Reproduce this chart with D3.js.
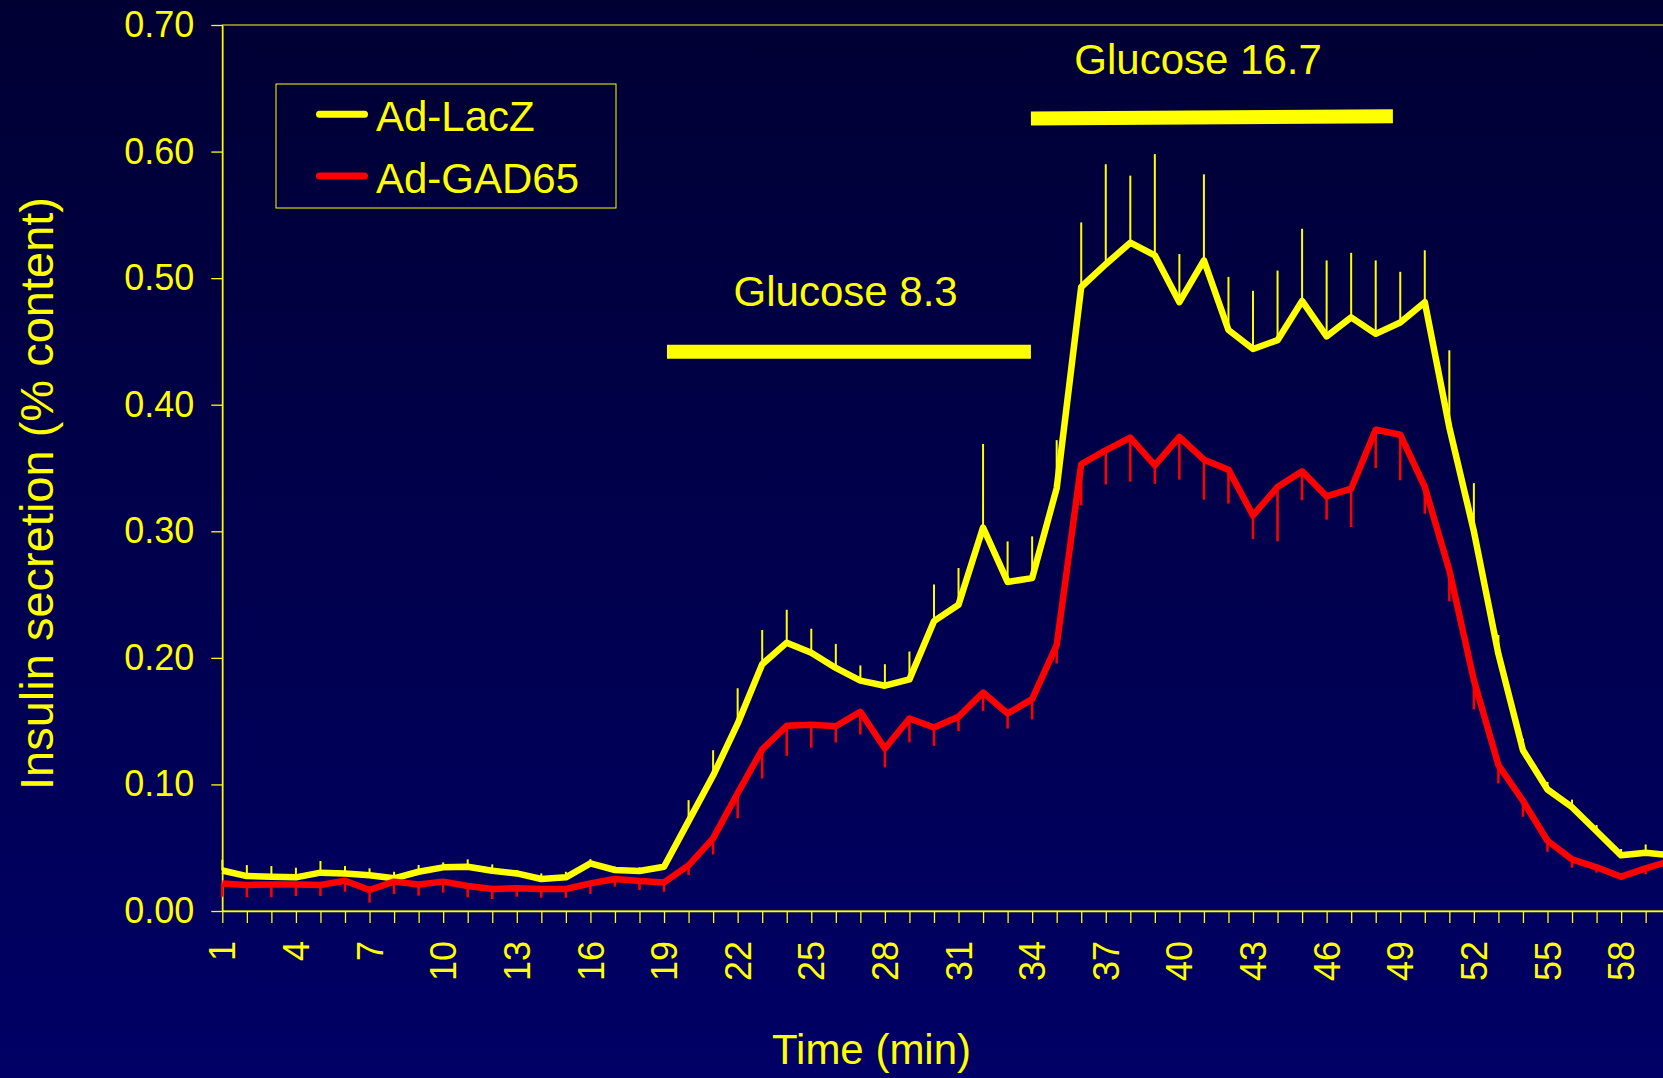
<!DOCTYPE html>
<html>
<head>
<meta charset="utf-8">
<script src="https://cdn.jsdelivr.net/npm/d3@7"></script>
<style>
  html, body { margin: 0; padding: 0; background: #000033; }
  svg { display: block; }
</style>
</head>
<body>
<svg width="1663" height="1078"></svg>
<script>
// Time points (min)
const times = [1,2,3,4,5,6,7,8,9,10,11,12,13,14,15,16,17,18,19,20,
  21,22,23,24,25,26,27,28,29,30,31,32,33,34,35,36,37,38,39,40,
  41,42,43,44,45,46,47,48,49,50,51,52,53,54,55,56,57,58,59,60];

// Ad-LacZ mean and SEM
const lacz = [0.032,0.0276,0.0271,0.0266,0.0303,0.0297,0.0282,0.0258,0.031,0.0345,
  0.035,0.0318,0.0297,0.0253,0.0266,0.0376,0.0324,0.0316,0.035,0.071,
  0.107,0.148,0.195,0.212,0.204,0.192,0.182,0.178,0.183,0.229,
  0.242,0.303,0.26,0.263,0.334,0.493,0.511,0.528,0.518,0.481,
  0.514,0.459,0.444,0.451,0.482,0.454,0.469,0.456,0.465,0.481,
  0.382,0.300,0.203,0.127,0.096,0.082,0.063,0.044,0.046,0.044];
const laczErr = [0.0085,0.0087,0.0084,0.0076,0.0092,0.0058,0.0055,0.0052,0.0053,0.0039,
  0.0058,0.005,0.0027,0.0044,0.0044,0.0034,0.0026,0.0029,0.0026,0.0166,
  0.020,0.028,0.027,0.026,0.019,0.019,0.012,0.017,0.022,0.029,
  0.029,0.066,0.032,0.033,0.038,0.051,0.079,0.053,0.080,0.038,
  0.068,0.042,0.046,0.055,0.057,0.060,0.051,0.058,0.040,0.041,
  0.061,0.038,0.015,0.009,0.006,0.006,0.005,0.005,0.0066,0.005];

// Ad-GAD65 mean and SEM
const gad65 = [0.0218,0.0205,0.021,0.021,0.0205,0.0239,0.0166,0.0232,0.021,0.0232,
  0.0197,0.0174,0.0179,0.0174,0.0174,0.0218,0.0253,0.0237,0.0226,0.036,
  0.0574,0.093,0.1276,0.1463,0.1471,0.146,0.1574,0.1284,0.1521,0.145,
  0.1534,0.1726,0.156,0.1674,0.21,0.353,0.364,0.374,0.352,0.3745,
  0.3566,0.3487,0.3126,0.335,0.3474,0.3276,0.3337,0.3802,0.3763,0.335,
  0.2692,0.1824,0.1153,0.0871,0.0555,0.0408,0.0345,0.0271,0.0337,0.0395];
const gad65Err = [0.0105,0.0097,0.0102,0.0092,0.0087,0.0087,0.01,0.0098,0.0089,0.0087,
  0.0089,0.0079,0.0066,0.0069,0.0069,0.0084,0.0061,0.0071,0.0074,0.0076,
  0.0127,0.0197,0.0229,0.0237,0.0181,0.0128,0.0179,0.015,0.0189,0.0145,
  0.0113,0.0145,0.0118,0.0161,0.0145,0.0324,0.0271,0.0348,0.0145,0.0337,
  0.0316,0.0268,0.0188,0.043,0.0229,0.0184,0.0303,0.0302,0.036,0.0211,
  0.0245,0.0232,0.0145,0.0126,0.0087,0.0066,0.0042,0.0026,0.0047,0.004];

// Axis tick labels
const xTickLabels = ["1","4","7","10","13","16","19","22","25","28","31","34","37","40","43","46","49","52","55","58"];
const yTicks = [0,0.1,0.2,0.3,0.4,0.5,0.6,0.7];

// Glucose stimulation periods (time range)
const stimuli = [
  { label: "Glucose 8.3", start: 19.12, end: 33.95 },
  { label: "Glucose 16.7", start: 33.95, end: 48.7 }
];

const FONT = "'Liberation Sans', Arial, sans-serif";
const YELLOW = "#ffff00", RED = "#ff0000";

const svg = d3.select("svg"),
    width = +svg.attr("width"),
    height = +svg.attr("height");

// background gradient
const grad = svg.append("defs").append("linearGradient")
    .attr("id", "bg").attr("x1", 0).attr("y1", 0).attr("x2", 0).attr("y2", 1);
grad.append("stop").attr("offset", "0%").attr("stop-color", "#000033");
grad.append("stop").attr("offset", "100%").attr("stop-color", "#000066");
svg.append("rect").attr("width", width).attr("height", height).attr("fill", "url(#bg)");

// scales
const x = d3.scalePoint().domain(times).range([222.3, 1670.2]);
const y = d3.scaleLinear().domain([0, 0.7]).range([911, 25]);

// plot frame (right side falls off the picture)
svg.append("rect")
    .attr("x", x(1)).attr("y", y(0.7))
    .attr("width", 1500).attr("height", y(0) - y(0.7))
    .attr("fill", "none").attr("stroke", YELLOW).attr("stroke-width", 1);

// y axis
const yAxis = svg.append("g")
    .attr("transform", `translate(${x(1)},0)`)
    .call(d3.axisLeft(y).tickValues(yTicks).tickFormat(d3.format(".2f"))
        .tickSize(11).tickSizeOuter(0).tickPadding(17));
yAxis.attr("font-family", FONT).attr("font-size", 36);
yAxis.select(".domain").attr("stroke", YELLOW).attr("stroke-width", 1.5);
yAxis.selectAll(".tick line").attr("stroke", YELLOW).attr("stroke-width", 1.3);
yAxis.selectAll(".tick text").attr("fill", YELLOW);

// x axis
const xAxis = svg.append("g")
    .attr("transform", `translate(0,${y(0)})`)
    .call(d3.axisBottom(x).tickSize(12).tickSizeOuter(0)
        .tickFormat(d => xTickLabels.includes(String(d)) ? String(d) : ""));
xAxis.attr("font-family", FONT).attr("font-size", 36);
xAxis.select(".domain").attr("stroke", YELLOW).attr("stroke-width", 1.5);
xAxis.selectAll(".tick line").attr("stroke", YELLOW).attr("stroke-width", 1.3);
xAxis.selectAll(".tick text")
    .attr("fill", YELLOW)
    .attr("transform", "rotate(-90)")
    .attr("text-anchor", "end")
    .attr("x", -30).attr("y", 0).attr("dy", "0.35em");

// axis titles
svg.append("text")
    .attr("transform", `translate(53,493.5) rotate(-90)`)
    .attr("text-anchor", "middle")
    .attr("font-family", FONT).attr("font-size", 47).attr("fill", YELLOW)
    .text("Insulin secretion (% content)");
svg.append("text")
    .attr("x", 871.5).attr("y", 1064)
    .attr("text-anchor", "middle")
    .attr("font-family", FONT).attr("font-size", 42).attr("fill", YELLOW)
    .text("Time (min)");

// glucose bars and labels
const barLevels = [[0.4419, 0.4419], [0.6262, 0.628]];
const labelSpots = [{ t: 26.4, v: 0.4783 }, { t: 40.76, v: 0.6613 }];
const tx = d3.scaleLinear().domain([1, 60]).range([x(1), x(60)]);
stimuli.forEach((s, i) => {
    svg.append("line")
        .attr("x1", tx(s.start)).attr("x2", tx(s.end))
        .attr("y1", y(barLevels[i][0])).attr("y2", y(barLevels[i][1]))
        .attr("stroke", YELLOW).attr("stroke-width", 14);
    svg.append("text")
        .attr("x", tx(labelSpots[i].t)).attr("y", y(labelSpots[i].v))
        .attr("text-anchor", "middle")
        .attr("font-family", FONT).attr("font-size", 42).attr("fill", YELLOW)
        .text(s.label);
});

// series
const series = [
  { name: "Ad-LacZ", values: lacz, err: laczErr, color: YELLOW, dir: 1, errW: 2 },
  { name: "Ad-GAD65", values: gad65, err: gad65Err, color: RED, dir: -1, errW: 2.5 }
];

const line = d3.line()
    .x(d => x(d.t))
    .y(d => y(d.v));

const plot = svg.append("g");
series.forEach(s => {
    const pts = times.map((t, i) => ({ t: t, v: s.values[i], e: s.err[i] }));
    // one-sided error bars
    plot.append("g").selectAll("line")
        .data(pts)
        .join("line")
        .attr("x1", d => x(d.t)).attr("x2", d => x(d.t))
        .attr("y1", d => y(d.v))
        .attr("y2", d => y(d.v + s.dir * d.e))
        .attr("stroke", s.color).attr("stroke-width", s.errW);
    plot.append("path")
        .datum(pts)
        .attr("d", line)
        .attr("fill", "none")
        .attr("stroke", s.color)
        .attr("stroke-width", 6.5)
        .attr("stroke-linejoin", "round");
});

// legend
const legend = svg.append("g");
legend.append("rect")
    .attr("x", 276).attr("y", 84).attr("width", 340).attr("height", 124)
    .attr("fill", "none").attr("stroke", YELLOW).attr("stroke-width", 1);
series.forEach((s, i) => {
    const ly = 114.3 + i * 61.7;
    legend.append("line")
        .attr("x1", 319.5).attr("x2", 364.5).attr("y1", ly).attr("y2", ly)
        .attr("stroke", s.color).attr("stroke-width", 7).attr("stroke-linecap", "round");
    legend.append("text")
        .attr("x", 376).attr("y", ly + 16.7)
        .attr("font-family", FONT).attr("font-size", 42).attr("fill", YELLOW)
        .text(s.name);
});
</script>
</body>
</html>
